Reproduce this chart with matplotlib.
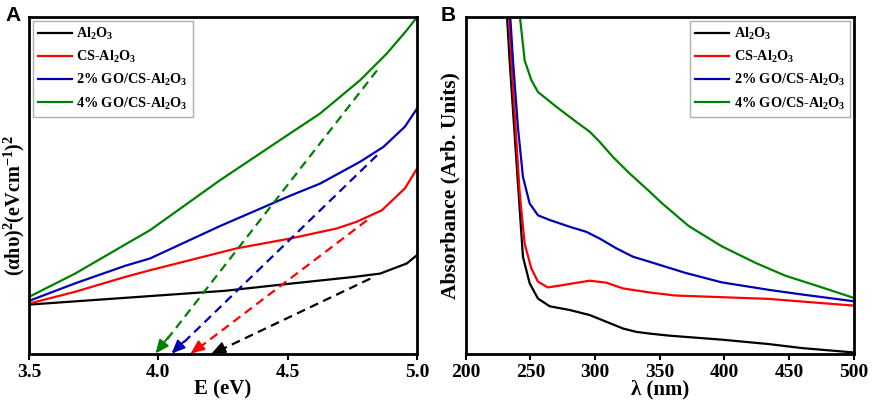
import matplotlib.pyplot as plt

plt.rcParams["font.family"] = ["Liberation Serif", "DejaVu Serif"]
plt.rcParams["font.weight"] = "bold"
plt.rcParams["mathtext.fontset"] = "custom"
plt.rcParams["mathtext.rm"] = "Liberation Serif:bold"
plt.rcParams["mathtext.bf"] = "Liberation Serif:bold"
plt.rcParams["mathtext.it"] = "Liberation Serif:bold"
plt.rcParams["mathtext.default"] = "bf"

labels = ["Al$_2$O$_3$", "CS-Al$_2$O$_3$", "2% GO/CS-Al$_2$O$_3$", "4% GO/CS-Al$_2$O$_3$"]
colors = ["black", "#ff0000", "#0000b4", "#008000"]

# panel A: Tauc plot (arbitrary units, 0..1)
e_al = [3.5, 4.258, 4.496, 4.754, 4.857, 4.96, 5.0]
a_al = [0.147, 0.188, 0.208, 0.229, 0.239, 0.269, 0.294]
e_cs = [3.5, 3.678, 3.871, 3.968, 4.303, 4.509, 4.69, 4.767, 4.864, 4.953, 5.0]
a_cs = [0.150, 0.185, 0.229, 0.249, 0.314, 0.343, 0.373, 0.393, 0.427, 0.492, 0.551]
e_go2 = [3.5, 3.678, 3.871, 3.968, 4.238, 4.509, 4.625, 4.78, 4.87, 4.953, 5.0]
a_go2 = [0.158, 0.210, 0.262, 0.284, 0.380, 0.470, 0.506, 0.571, 0.615, 0.675, 0.729]
e_go4 = [3.5, 3.678, 3.871, 3.968, 4.238, 4.509, 4.625, 4.78, 4.883, 4.96, 5.0]
a_go4 = [0.170, 0.239, 0.325, 0.368, 0.516, 0.655, 0.714, 0.813, 0.892, 0.961, 1.0]

# extrapolation lines: (start E, start y, band gap E)
fit_start_e = [4.819, 4.806, 4.845, 4.845]
fit_start_y = [0.224, 0.397, 0.59, 0.842]
band_gap = [4.206, 4.125, 4.051, 3.989]

# panel B: absorbance spectra
w_al = [232, 234, 239.2, 244.3, 249.5, 255.9, 265, 280.4, 295.9, 308.8, 321.7, 332, 342.3,
        357, 398, 434, 460, 500]
b_al = [1.0, 0.872, 0.576, 0.289, 0.21, 0.165, 0.142, 0.131, 0.116, 0.096, 0.076, 0.066,
        0.061, 0.055, 0.043, 0.030, 0.018, 0.005]
w_cs = [233.5, 235.3, 241.8, 245.6, 250.8, 255.9, 263.6, 275.2, 295.9, 308.8, 321.7, 342.3,
        362, 398, 434, 500]
b_cs = [1.0, 0.872, 0.477, 0.328, 0.254, 0.215, 0.198, 0.205, 0.218, 0.212, 0.195, 0.183,
        0.174, 0.169, 0.164, 0.144]
w_go2 = [234.5, 236.6, 240.4, 244.3, 249.5, 255.9, 265, 280.4, 293.3, 303.6, 316.5, 329.4,
         342.3, 370, 398, 434, 460, 500]
b_go2 = [1.0, 0.872, 0.674, 0.526, 0.447, 0.412, 0.398, 0.378, 0.363, 0.343, 0.314, 0.289,
         0.274, 0.241, 0.213, 0.191, 0.177, 0.157]
w_go4 = [242, 245.6, 250.8, 255.9, 270.1, 285.6, 295.9, 303.6, 313.9, 326.8, 342.3, 352,
         372.5, 398, 424, 447, 473, 500]
b_go4 = [1.0, 0.872, 0.813, 0.778, 0.734, 0.689, 0.660, 0.63, 0.585, 0.536, 0.482, 0.447,
         0.38, 0.32, 0.271, 0.233, 0.201, 0.167]

fig = plt.figure(figsize=(8.72, 4.08), dpi=100)
ax1 = fig.add_axes([0.0333, 0.132, 0.445, 0.826])
ax2 = fig.add_axes([0.534, 0.132, 0.445, 0.826])

for x, y, lab, c in zip([e_al, e_cs, e_go2, e_go4], [a_al, a_cs, a_go2, a_go4], labels, colors):
    ax1.plot(x, y, color=c, lw=1.6, label=lab)

for xs, ys, xg, c in zip(fit_start_e, fit_start_y, band_gap, colors):
    ax1.plot([xs, xg], [ys, 0.0], color=c, lw=1.6, dashes=(4, 2.5))
    dx = (xs - xg) * 0.06
    dy = ys * 0.06
    ax1.annotate("", xy=(xg, 0.002), xytext=(xg + dx, 0.002 + dy),
                 arrowprops=dict(arrowstyle="-|>,head_length=0.8,head_width=0.35",
                                 color=c, lw=1.4, mutation_scale=10,
                                 shrinkA=0, shrinkB=0))

ax1.set_xlim(3.5, 5.0)
ax1.set_ylim(0, 1)
ax1.set_xticks([3.5, 4.0, 4.5, 5.0])
ax1.set_yticks([])
ax1.set_xlabel("E (eV)", fontsize=15, fontweight="bold", labelpad=-1)
ax1.set_ylabel("(αhυ)$^2$(eVcm$^{-1}$)$^2$", fontsize=14.5, fontweight="bold")
ax1.yaxis.set_label_coords(-0.004, 0.44)

for x, y, lab, c in zip([w_al, w_cs, w_go2, w_go4], [b_al, b_cs, b_go2, b_go4], labels, colors):
    ax2.plot(x, y, color=c, lw=1.6, label=lab)

ax2.set_xlim(200, 500)
ax2.set_ylim(0, 1)
ax2.set_xticks(range(200, 501, 50))
ax2.set_yticks([])
ax2.set_xlabel("λ (nm)", fontsize=15, fontweight="bold", labelpad=-1)
ax2.set_ylabel("Absorbance (Arb. Units)", fontsize=15.5, fontweight="bold")
ax2.yaxis.set_label_coords(-0.013, 0.5)

for ax in (ax1, ax2):
    for s in ax.spines.values():
        s.set_linewidth(2.0)
    ax.tick_params(axis="x", direction="out", length=4, width=1.5, labelsize=14, pad=3)
    for t in ax.get_xticklabels():
        t.set_fontweight("bold")

leg_kw = dict(frameon=True, fancybox=False, edgecolor="#b0b0b0",
              framealpha=1, handlelength=2.4, handletextpad=0.3, labelspacing=0.5,
              borderpad=0.35, borderaxespad=0.25, prop={"weight": "bold", "size": 10.3})
ax1.legend(loc="upper left", **leg_kw)
ax2.legend(loc="upper right", **leg_kw)

fig.text(0.006, 0.985, "A", family="Liberation Sans", fontsize=15, fontweight="bold", va="top")
fig.text(0.505, 0.985, "B", family="Liberation Sans", fontsize=15, fontweight="bold", va="top")

fig.savefig("out.png", dpi=100)
